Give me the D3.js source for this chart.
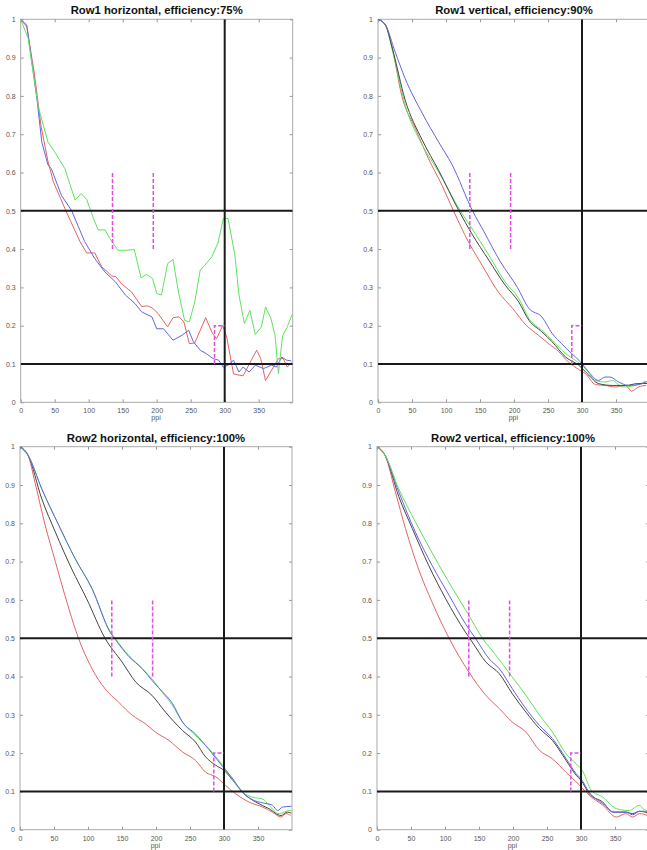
<!DOCTYPE html>
<html lang="en">
<head>
<meta charset="utf-8">
<title>ppi curves</title>
<style>
html,body {margin:0; padding:0; background:#fff;}
svg {display:block;}
text {font-family:"Liberation Sans", Arial, sans-serif;}
</style>
<script src="https://d3js.org/d3.v7.min.js"></script>
</head>
<body>
<script>
// x ticks / y ticks
var xTicks = [0, 50, 100, 150, 200, 250, 300, 350]
var yTicks = [0, 0.1, 0.2, 0.3, 0.4, 0.5, 0.6, 0.7, 0.8, 0.9, 1]
var titles = ['Row1 horizontal, efficiency:75%', 'Row1 vertical, efficiency:90%',
              'Row2 horizontal, efficiency:100%', 'Row2 vertical, efficiency:100%']

// reference lines and magenta markers (ppi, value)
var refX = [300]
var refY = [0.1, 0.5]
var markA = [[135, 0.4], [135, 0.6]]
var markB = [[195, 0.4], [195, 0.6]]
var markC = [[285, 0.1], [285, 0.2], [300, 0.2]]

// Row1 horizontal
var r1hRed = [[0,1],[9,0.98],[20,0.86],[30,0.72],[40,0.63],[48,0.576],[65,0.506],[87,0.42],[97,0.39],[109,0.39],[119,0.354],[134,0.33],[140,0.328],[148,0.31],[163,0.288],[178,0.25],[186,0.252],[193,0.247],[202,0.232],[216,0.197],[224,0.221],[233,0.223],[240,0.21],[248,0.153],[256,0.155],[272,0.221],[282,0.18],[288,0.166],[297,0.2],[303,0.17],[313,0.074],[327,0.069],[343,0.123],[347,0.136],[353,0.114],[360,0.057],[369,0.084],[379,0.114],[386,0.114],[392,0.092],[398,0.104]]
var r1hBlue = [[0,1],[9,0.985],[17,0.88],[24,0.79],[31,0.68],[40,0.62],[45,0.61],[60,0.54],[75,0.5],[94,0.42],[109,0.375],[124,0.34],[139,0.315],[154,0.28],[168,0.258],[178,0.236],[193,0.223],[200,0.192],[210,0.192],[224,0.162],[237,0.175],[247,0.188],[254,0.158],[264,0.136],[273,0.127],[283,0.114],[291,0.11],[298,0.092],[305,0.097],[313,0.11],[321,0.079],[327,0.092],[336,0.079],[345,0.097],[357,0.088],[369,0.097],[376,0.092],[384,0.118],[391,0.11],[398,0.108]]
var r1hGreen = [[0,1],[11,0.95],[26,0.77],[40,0.68],[50,0.654],[65,0.61],[80,0.528],[89,0.545],[97,0.53],[107,0.48],[114,0.45],[124,0.45],[131,0.428],[143,0.397],[156,0.397],[167,0.399],[177,0.325],[185,0.334],[194,0.323],[200,0.284],[207,0.28],[216,0.362],[224,0.373],[232,0.288],[241,0.214],[248,0.21],[256,0.262],[264,0.345],[271,0.358],[281,0.38],[290,0.416],[298,0.48],[305,0.48],[315,0.384],[321,0.28],[329,0.206],[337,0.24],[345,0.177],[354,0.197],[360,0.249],[368,0.219],[374,0.175],[379,0.075],[385,0.173],[392,0.197],[399,0.229]]

// Row1 vertical
var r1vRed = [[0,1],[11,0.985],[21,0.924],[35,0.8],[55,0.715],[74,0.637],[94,0.567],[111,0.5],[133,0.419],[153,0.358],[177,0.288],[198,0.245],[218,0.201],[236,0.175],[251,0.153],[266,0.132],[280,0.105],[295,0.086],[305,0.075],[320,0.046],[334,0.044],[349,0.04],[364,0.044],[373,0.029],[383,0.04],[394,0.044]]
var r1vGreen = [[0,1],[11,0.985],[21,0.92],[40,0.776],[65,0.672],[89,0.602],[121,0.5],[138,0.454],[163,0.384],[187,0.314],[207,0.271],[222,0.219],[241,0.188],[256,0.162],[276,0.127],[290,0.11],[305,0.088],[320,0.057],[334,0.053],[345,0.057],[359,0.04],[378,0.044],[393,0.055]]
var r1vBlack = [[0,1],[11,0.985],[21,0.925],[40,0.789],[65,0.685],[89,0.606],[119,0.5],[138,0.44],[163,0.371],[187,0.306],[207,0.262],[222,0.214],[241,0.184],[256,0.158],[276,0.118],[295,0.097],[310,0.071],[324,0.049],[345,0.044],[364,0.044],[383,0.049],[396,0.049]]
var r1vBlue = [[0,1],[11,0.985],[25,0.916],[40,0.845],[65,0.755],[89,0.68],[109,0.62],[139,0.5],[156,0.445],[180,0.367],[205,0.3],[222,0.245],[241,0.223],[256,0.18],[270,0.153],[285,0.127],[298,0.105],[310,0.079],[324,0.057],[334,0.066],[341,0.066],[354,0.053],[368,0.044],[383,0.046],[396,0.055]]

// Row2 horizontal
var r2hRed = [[0,1],[12,0.977],[22,0.907],[37,0.795],[52,0.7],[66,0.612],[86,0.5],[106,0.42],[125,0.368],[145,0.333],[165,0.299],[184,0.277],[199,0.255],[219,0.233],[239,0.203],[258,0.181],[273,0.15],[288,0.138],[302,0.116],[317,0.094],[337,0.072],[357,0.059],[371,0.046],[384,0.033],[391,0.042],[398,0.037]]
var r2hBlack = [[0,1],[12,0.977],[32,0.864],[52,0.777],[76,0.681],[98,0.603],[125,0.5],[150,0.438],[170,0.386],[194,0.351],[214,0.307],[239,0.259],[258,0.229],[273,0.19],[288,0.168],[300,0.155],[317,0.12],[332,0.09],[347,0.072],[366,0.055],[384,0.037],[393,0.046],[399,0.043]]
var r2hGreen = [[0,1],[12,0.977],[32,0.89],[57,0.795],[81,0.708],[106,0.629],[133,0.516],[140,0.499],[160,0.455],[180,0.42],[194,0.394],[209,0.359],[224,0.325],[239,0.281],[258,0.246],[278,0.211],[298,0.168],[312,0.133],[327,0.098],[342,0.085],[357,0.08],[366,0.064],[381,0.042],[396,0.05],[399,0.05]]
var r2hBlue = [[0,1],[12,0.977],[32,0.89],[57,0.795],[81,0.708],[106,0.629],[133,0.514],[140,0.497],[160,0.452],[180,0.42],[194,0.39],[209,0.361],[224,0.33],[239,0.281],[258,0.25],[278,0.209],[298,0.165],[312,0.135],[327,0.098],[342,0.078],[357,0.07],[371,0.064],[379,0.05],[386,0.059],[399,0.061]]

// Row2 vertical
var r2vRed = [[0,1],[12,0.977],[27,0.882],[42,0.786],[61,0.681],[81,0.594],[106,0.5],[135,0.412],[160,0.351],[180,0.316],[199,0.281],[219,0.255],[239,0.207],[258,0.185],[278,0.15],[298,0.116],[312,0.09],[332,0.064],[352,0.033],[366,0.042],[376,0.033],[386,0.042],[398,0.037]]
var r2vBlack = [[0,1],[12,0.977],[32,0.87],[52,0.786],[76,0.69],[101,0.603],[130,0.516],[140,0.49],[160,0.438],[180,0.407],[199,0.355],[219,0.307],[239,0.264],[258,0.233],[278,0.181],[293,0.142],[300,0.129],[312,0.094],[332,0.072],[347,0.046],[366,0.046],[376,0.042],[386,0.048],[398,0.044]]
var r2vBlue = [[0,1],[12,0.977],[32,0.882],[57,0.775],[81,0.69],[106,0.612],[130,0.538],[145,0.499],[165,0.446],[180,0.42],[199,0.368],[219,0.316],[239,0.272],[258,0.238],[278,0.186],[293,0.146],[300,0.133],[312,0.098],[332,0.068],[349,0.046],[366,0.046],[376,0.039],[386,0.048],[398,0.048]]
var r2vGreen = [[0,1],[12,0.977],[32,0.89],[57,0.802],[81,0.723],[106,0.645],[135,0.56],[155,0.5],[175,0.455],[197,0.403],[219,0.351],[239,0.299],[258,0.255],[278,0.198],[293,0.172],[303,0.151],[315,0.103],[332,0.085],[352,0.055],[371,0.05],[386,0.064],[391,0.055],[398,0.05]]

var C = {red:'#e26464', green:'#5ee25e', blue:'#6464e2', black:'#444444'}

var panels = [
  {left:20.7, top:19.3, curve:d3.curveLinear, series:[[r1hRed,C.red],[r1hBlue,C.blue],[r1hGreen,C.green]]},
  {left:378, top:19.3, curve:d3.curveMonotoneX, series:[[r1vRed,C.red],[r1vGreen,C.green],[r1vBlack,C.black],[r1vBlue,C.blue]]},
  {left:20, top:446.7, curve:d3.curveMonotoneX, series:[[r2hRed,C.red],[r2hBlack,C.black],[r2hGreen,C.green],[r2hBlue,C.blue]]},
  {left:377, top:446.7, curve:d3.curveMonotoneX, series:[[r2vRed,C.red],[r2vBlack,C.black],[r2vBlue,C.blue],[r2vGreen,C.green]]}
]

var W = 647, H = 850
var pw = 272, ph = 383

var svg = d3.select('body').append('svg').attr('width', W).attr('height', H)

panels.forEach(function(p, i) {
  var g = svg.append('g').attr('transform', `translate(${p.left},${p.top})`)
  var x = d3.scaleLinear().domain([0, 400]).range([0, pw])
  var y = d3.scaleLinear().domain([0, 1]).range([ph, 0])

  g.append('clipPath').attr('id', 'clip'+i).append('rect').attr('width', pw).attr('height', ph)

  // box
  g.append('rect').attr('width', pw).attr('height', ph)
    .attr('fill', 'none').attr('stroke', '#aaa').attr('stroke-width', 1)

  // ticks, inward on all sides
  var xAx = d3.axisBottom(x).tickValues(xTicks).tickSize(-3).tickPadding(6).tickFormat(d3.format('d'))
  var yAx = d3.axisLeft(y).tickValues(yTicks).tickSize(-3).tickPadding(5).tickFormat(function(d){ return d3.format('~g')(d) })
  g.append('g').attr('transform', `translate(0,${ph})`).call(xAx)
  g.append('g').call(yAx)
  g.append('g').call(d3.axisTop(x).tickValues(xTicks).tickSize(-3).tickFormat(''))
  g.append('g').attr('transform', `translate(${pw},0)`).call(d3.axisRight(y).tickValues(yTicks).tickSize(-3).tickFormat(''))
  g.selectAll('.domain').remove()
  g.selectAll('.tick line').attr('stroke', '#999')
  g.selectAll('.tick text').attr('fill', '#555').attr('font-size', 7).attr('font-family', '"Liberation Sans", Arial, sans-serif')

  // title and axis label
  g.append('text').attr('x', pw/2).attr('y', -5).attr('text-anchor', 'middle')
    .attr('font-size', 11.3).attr('font-weight', 'bold').attr('fill', '#111').text(titles[i])
  g.append('text').attr('x', x(199)).attr('y', ph + 18).attr('text-anchor', 'middle')
    .attr('font-size', 7).attr('fill', '#555').text('ppi')

  var plot = g.append('g').attr('clip-path', `url(#clip${i})`)
  var line = d3.line().x(function(d){ return x(d[0]) }).y(function(d){ return y(d[1]) })
  var curveLine = d3.line().curve(p.curve).x(function(d){ return x(d[0]) }).y(function(d){ return y(d[1]) })

  p.series.forEach(function(s) {
    plot.append('path').datum(s[0]).attr('d', curveLine)
      .attr('fill', 'none').attr('stroke', s[1]).attr('stroke-width', 1)
  })

  // black reference lines
  refY.forEach(function(v) {
    plot.append('line').attr('x1', 0).attr('x2', pw).attr('y1', y(v)).attr('y2', y(v))
      .attr('stroke', '#1a1a1a').attr('stroke-width', 2)
  })
  refX.forEach(function(v) {
    plot.append('line').attr('x1', x(v)).attr('x2', x(v)).attr('y1', 0).attr('y2', ph)
      .attr('stroke', '#1a1a1a').attr('stroke-width', 2)
  })

  // magenta dashed markers
  ;[markA, markB, markC].forEach(function(m) {
    plot.append('path').datum(m).attr('d', line)
      .attr('fill', 'none').attr('stroke', '#e24ce2').attr('stroke-width', 1.5)
      .attr('stroke-dasharray', '4,2')
  })
})
</script>
</body>
</html>
